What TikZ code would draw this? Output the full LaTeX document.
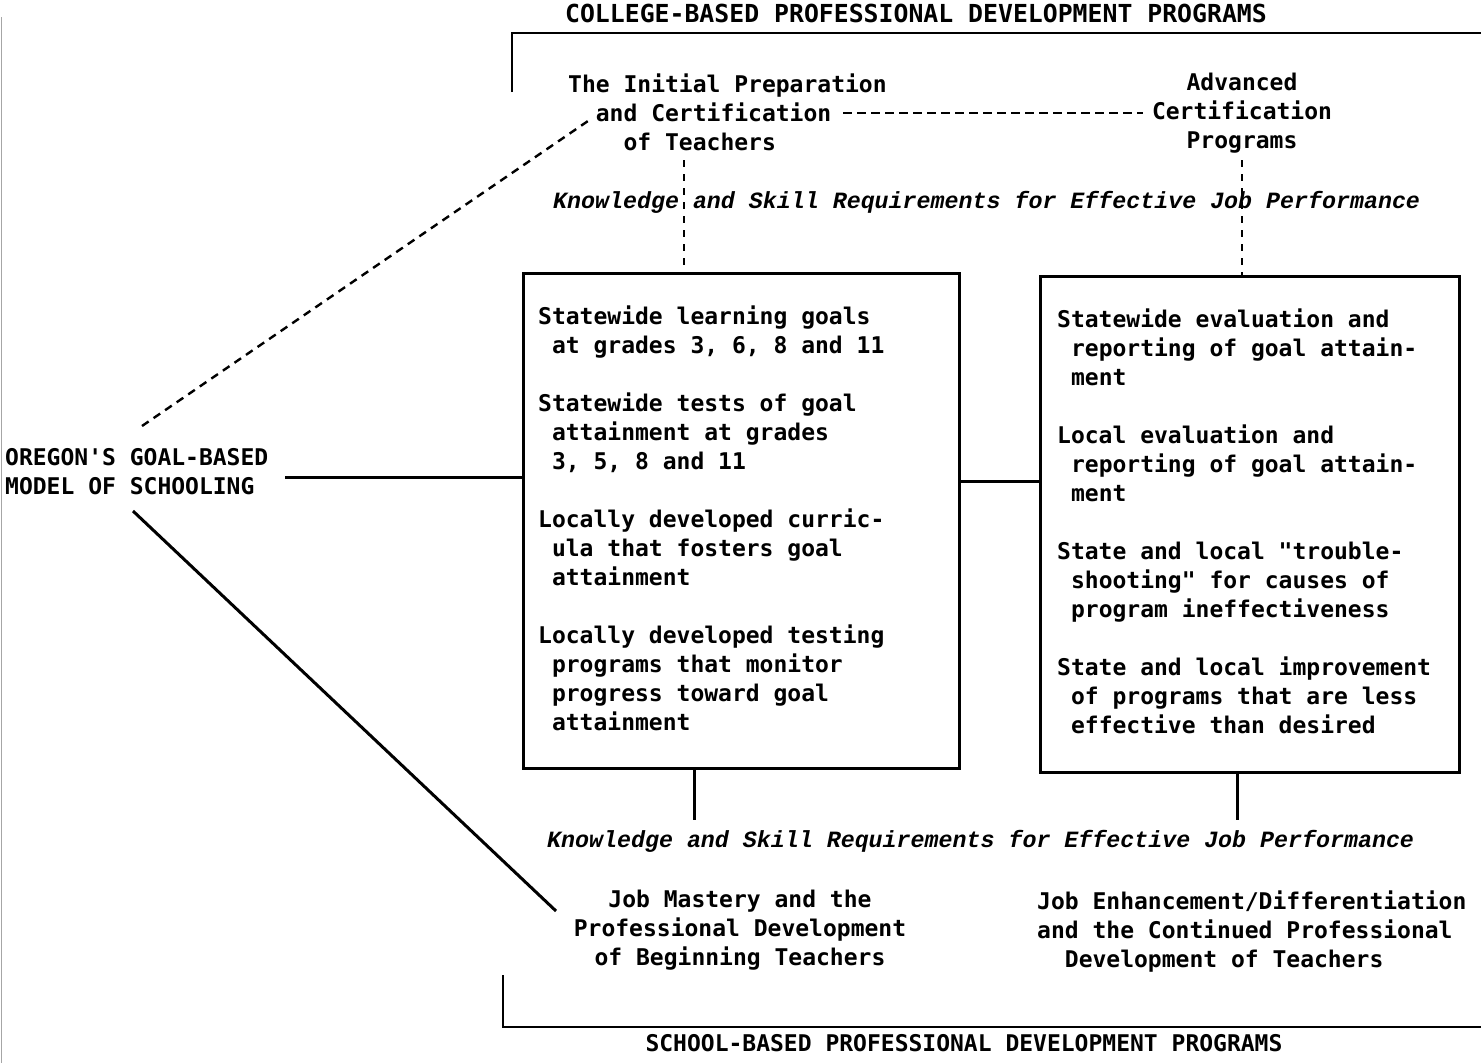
\documentclass[tikz,border=0pt]{standalone}
\usepackage{fontspec}
\newfontfamily\tw{DejaVu Sans Mono}
\newfontfamily\twit{Liberation Mono}
\newcommand\ind{\phantom{x}}
\begin{document}
\begin{tikzpicture}[x=1pt,y=-1pt,
  txt/.style={font=\tw\bfseries\fontsize{23}{29}\selectfont, inner sep=0pt, align=left},
  ctxt/.style={txt, align=center},
  head/.style={font=\tw\bfseries\fontsize{23}{29}\selectfont, inner sep=0pt},
  kreq/.style={font=\twit\bfseries\itshape\fontsize{23.3}{29}\selectfont, inner sep=0pt},
  panel/.style={draw, line width=3pt, inner sep=0pt},
  solidlink/.style={line width=3pt},
  bracket/.style={line width=2.8pt},
  dashlink/.style={line width=2.4pt, dash pattern=on 8pt off 6pt},
  vdash/.style={line width=2.4pt, dash pattern=on 7pt off 7pt}]
\useasboundingbox (0,0) rectangle (1481,1063);
\fill[white] (0,0) rectangle (1481,1063);

% page edge
\draw[gray!70, line width=1.2pt] (1.5,17) -- (1.5,1063);

% brackets for the two program families
\node[head, font=\tw\bfseries\fontsize{24.8}{29}\selectfont, anchor=base] (college) at (916,22)
  {COLLEGE-BASED PROFESSIONAL DEVELOPMENT PROGRAMS};
\draw[bracket] (512,92) -- (512,33) -- (1481,33);
\node[head, anchor=base] (school) at (964,1051) {SCHOOL-BASED PROFESSIONAL DEVELOPMENT PROGRAMS};
\draw[bracket] (503,975) -- (503,1027) -- (1481,1027);

% model label
\node[txt, anchor=north west] (oregon) at (5,448.5) {OREGON'S GOAL-BASED\\MODEL OF SCHOOLING};

% college programs
\node[txt, anchor=north west] (initial) at (568,73.5)
  {The Initial Preparation\\\ind\ind and Certification\\\ind\ind\ind\ind of Teachers};
\node[ctxt, anchor=north] (advanced) at (1242,72.5)
  {Advanced\\Certification\\Programs};

\node[kreq, anchor=base west] (kreqtop) at (553,208)
  {Knowledge and Skill Requirements for Effective Job Performance};

% the two panels
\node[panel, anchor=north west, minimum width=436pt, minimum height=495pt] (box1) at (522,272) {};
\node[txt, anchor=north west] (box1text) at (538,305.5)
  {Statewide learning goals\\
   \ind at grades 3, 6, 8 and 11\\[29pt]
   Statewide tests of goal\\
   \ind attainment at grades\\
   \ind 3, 5, 8 and 11\\[29pt]
   Locally developed curric-\\
   \ind ula that fosters goal\\
   \ind attainment\\[29pt]
   Locally developed testing\\
   \ind programs that monitor\\
   \ind progress toward goal\\
   \ind attainment};

\node[panel, anchor=north west, minimum width=419pt, minimum height=496pt] (box2) at (1039,275) {};
\node[txt, anchor=north west] (box2text) at (1057,308.5)
  {Statewide evaluation and\\
   \ind reporting of goal attain-\\
   \ind ment\\[29pt]
   Local evaluation and\\
   \ind reporting of goal attain-\\
   \ind ment\\[29pt]
   State and local "trouble-\\
   \ind shooting" for causes of\\
   \ind program ineffectiveness\\[29pt]
   State and local improvement\\
   \ind of programs that are less\\
   \ind effective than desired};

\node[kreq, anchor=base west] (kreqbot) at (547,847)
  {Knowledge and Skill Requirements for Effective Job Performance};

% school programs
\node[ctxt, anchor=north] (mastery) at (740,889.5)
  {Job Mastery and the\\Professional Development\\of Beginning Teachers};
\node[txt, anchor=north west] (enhance) at (1037,890.5)
  {Job Enhancement/Differentiation\\and the Continued Professional\\\ind\ind Development of Teachers};

% connector end points
\coordinate (oregonR) at (285,477);
\coordinate (oregonNE) at (142,426);
\coordinate (oregonSE) at (133,511);
\coordinate (initialSW) at (588,121);
\coordinate (initialE) at (843,113);
\coordinate (advancedW) at (1143,113);
\coordinate (mid) at (1000,481);
\coordinate (masteryNW) at (556,911);
\coordinate (col1) at (684,160);
\coordinate (col2) at (1242,160);
\coordinate (foot1) at (694,820);
\coordinate (foot2) at (1237,820);

% connectors
\draw[solidlink] (oregonR) -- (oregonR -| box1.west);
\draw[solidlink] (mid -| box1.east) -- (mid -| box2.west);
\draw[dashlink] (oregonNE) -- (initialSW);
\draw[dashlink, dash pattern=on 9pt off 5pt] (initialE) -- (advancedW);
\draw[vdash] (col1) -- (col1 |- box1.north);
\draw[vdash] (col2) -- (col2 |- box2.north);
\draw[solidlink] (foot1 |- box1.south) -- (foot1);
\draw[solidlink] (foot2 |- box2.south) -- (foot2);
\draw[solidlink] (oregonSE) -- (masteryNW);
\end{tikzpicture}
\end{document}
